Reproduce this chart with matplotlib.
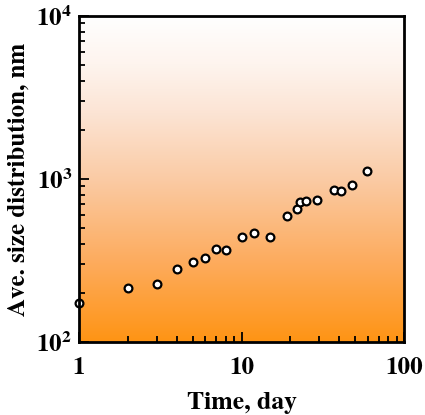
import numpy as np
import matplotlib
matplotlib.use("Agg")
import matplotlib.pyplot as plt
from matplotlib.colors import LinearSegmentedColormap
from matplotlib.ticker import LogLocator, NullFormatter

time_day = [1, 2, 3, 4, 5, 6, 7, 8, 10, 12, 15, 19, 22, 23, 25, 29, 37, 41, 48, 59]
size_nm = [173, 214, 228, 279, 310, 327, 372, 368, 439, 464, 443, 596, 655, 719, 733, 747, 853, 844, 919, 1120]
xtick_vals = [1, 10, 100]
xtick_labels = ["1", "10", "100"]
ytick_vals = [100, 1000, 10000]
ytick_labels = [r'$10^2$', r'$10^3$', r'$10^4$']

plt.rcParams['font.family'] = ['TeX Gyre Termes', 'DejaVu Serif']
plt.rcParams['font.weight'] = 'bold'
plt.rcParams['mathtext.fontset'] = 'custom'
plt.rcParams['mathtext.rm'] = 'TeX Gyre Termes:bold'
plt.rcParams['mathtext.default'] = 'rm'

fig = plt.figure(figsize=(4.25, 4.15), dpi=100)
ax = fig.add_axes([79/425, 1 - 342/415, 325/425, 326/415])

stops = [(0.0, (255/255, 148/255, 20/255)),
         (0.25, (253/255, 172/255, 95/255)),
         (0.5, (250/255, 203/255, 165/255)),
         (0.7, (252/255, 228/255, 212/255)),
         (0.85, (254/255, 244/255, 238/255)),
         (1.0, (1.0, 1.0, 1.0))]
cmap = LinearSegmentedColormap.from_list('og', stops)
grad = np.linspace(0, 1, 256).reshape(-1, 1)
ax.imshow(grad, cmap=cmap, origin='lower', aspect='auto', extent=[0, 1, 0, 1],
          transform=ax.transAxes, zorder=0, interpolation='bicubic')

ax.plot(time_day, size_nm, 'o', ms=5.6, mfc='white', mec='black', mew=1.6,
        zorder=3, clip_on=False)

ax.set_xscale('log')
ax.set_yscale('log')
ax.set_xlim(1, 100)
ax.set_ylim(100, 10000)

ax.set_xticks(xtick_vals)
ax.set_xticklabels(xtick_labels)
ax.xaxis.set_minor_locator(LogLocator(base=10, subs=np.arange(2, 10)))
ax.xaxis.set_minor_formatter(NullFormatter())
ax.set_yticks(ytick_vals)
ax.set_yticklabels(ytick_labels)
ax.yaxis.set_minor_locator(LogLocator(base=10, subs=np.arange(2, 10)))
ax.yaxis.set_minor_formatter(NullFormatter())

ax.tick_params(which='both', direction='in', top=False, right=False, width=1.3)
ax.tick_params(axis='x', which='major', length=7, labelsize=18, pad=11)
ax.tick_params(axis='y', which='major', length=7, labelsize=18, pad=5)
ax.tick_params(which='minor', length=4)

for s in ax.spines.values():
    s.set_linewidth(2)
    s.set_zorder(4)

ax.set_xlabel('Time, day', fontsize=18.5, fontweight='bold', labelpad=9)
ax.set_ylabel('Ave. size distribution, nm', fontsize=18, fontweight='bold', labelpad=5)

fig.savefig('out.png', dpi=100)
